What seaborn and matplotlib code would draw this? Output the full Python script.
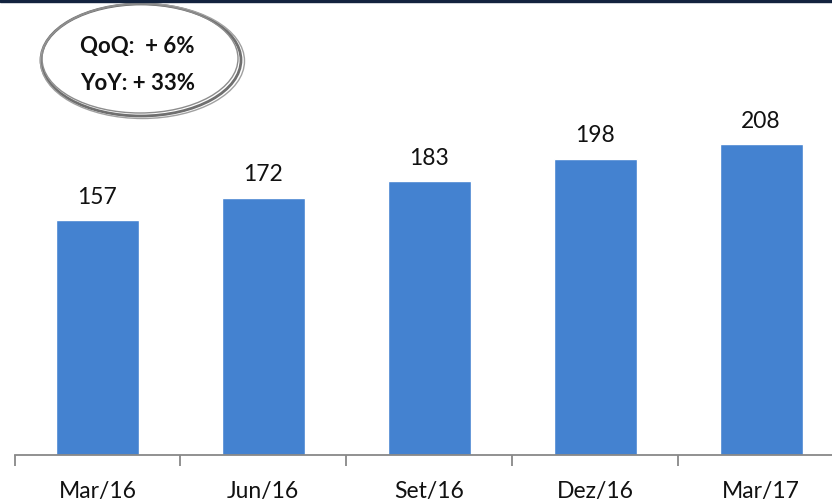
import matplotlib
matplotlib.use("Agg")
import matplotlib.pyplot as plt
import seaborn as sns
import pandas as pd
from matplotlib.patches import Ellipse, Rectangle

# -------------------------------------------------------------------
# Data
# -------------------------------------------------------------------
quarters = ["Mar/16", "Jun/16", "Set/16", "Dez/16", "Mar/17"]
values = [157, 172, 183, 198, 208]
qoq_text = "QoQ:  + 6%"
yoy_text = "YoY: + 33%"

df = pd.DataFrame({"quarter": quarters, "value": values})

sns.set_style("white")
plt.rcParams["font.family"] = ["Lato", "DejaVu Sans"]

W, H = 832, 502
fig = plt.figure(figsize=(W / 100, H / 100), dpi=100)
ax = fig.add_axes([14.5 / W, 46 / H, 829.5 / W, 448.5 / H])

sns.barplot(data=df, x="quarter", y="value", color="#4482d0",
            width=0.5, saturation=1, ax=ax)
ax.set_xlim(-0.5, 4.5)
ax.set_ylim(0, 300)

# value labels
for i, v in enumerate(values):
    ax.annotate(f"{v}", (i, v), xytext=(0, 24), textcoords="offset pixels",
                ha="center", va="center", fontsize=16.5, color="#111111")

# axes styling
for s in ["top", "right", "left"]:
    ax.spines[s].set_visible(False)
ax.spines["bottom"].set_color("#888888")
ax.spines["bottom"].set_linewidth(1.3)
ax.set_yticks([])
ax.set_xlabel("")
ax.set_ylabel("")
ax.set_xticks(range(len(quarters)))
ax.set_xticklabels(quarters, fontsize=16.5, color="#111111")
ax.tick_params(axis="x", which="major", length=0, pad=18)
ax.set_xticks([i - 0.5 for i in range(len(quarters) + 1)], minor=True)
ax.tick_params(axis="x", which="minor", bottom=True, length=8, width=1.3,
               color="#888888")

# navy band at top
fig.patches.append(Rectangle((0, 1 - 3 / H), 1, 3 / H, transform=fig.transFigure,
                             color="#13233f", zorder=5))

# hand-drawn looking ellipse
cx, cy = 141 / W, 1 - 61 / H
for dx, dy, dw, dh, lw, c in [(0, 0, 0, 0, 2.0, "#6f6f6f"),
                              (1.5, -1, 4, 3, 1.0, "#a0a0a0"),
                              (-1, 1.5, -4, -3, 1.0, "#8c8c8c")]:
    fig.patches.append(Ellipse((cx + dx / W, cy + dy / H), (200 + dw) / W, (112 + dh) / H,
                               transform=fig.transFigure, fill=False,
                               edgecolor=c, linewidth=lw))

fig.text(80 / W, 1 - 47 / H, qoq_text, fontsize=16, fontweight="bold",
         va="center", ha="left", color="#111111")
fig.text(80 / W, 1 - 83 / H, yoy_text, fontsize=16, fontweight="bold",
         va="center", ha="left", color="#111111")

fig.savefig("out.png", dpi=100)
